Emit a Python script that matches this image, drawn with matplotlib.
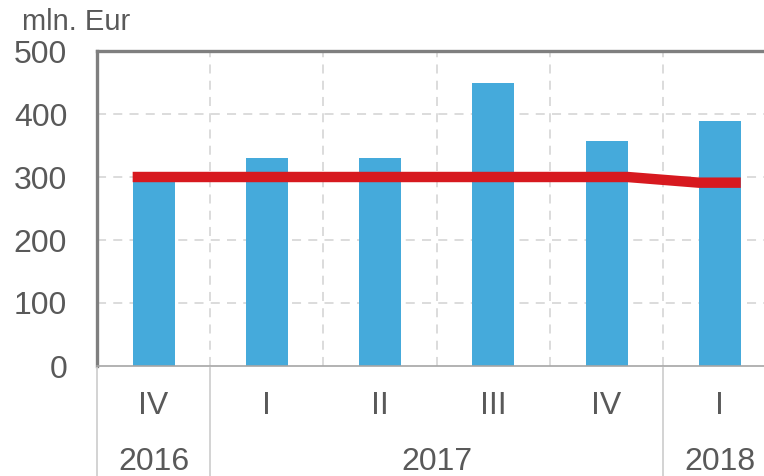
import numpy as np
import matplotlib
matplotlib.use("Agg")
from matplotlib import pyplot as plt
from matplotlib.lines import Line2D
import matplotlib.transforms as mtransforms

# donnees
quarters = ["IV", "I", "II", "III", "IV", "I"]
years = ["2016", "2017", "2018"]
year_spans = [(0, 0), (1, 4), (5, 5)]  # premier et dernier indice du trimestre pour chaque annee
bars = [303, 330, 330, 449, 357, 389]
line = [300, 300, 300, 300, 300, 291]

blue = "#45AADB"
red = "#D7191F"
grey_txt = "#595959"

plt.rcParams["font.family"] = ["Liberation Sans", "DejaVu Sans"]

fig = plt.figure(figsize=(7.64, 4.76), dpi=100)
ax = fig.add_axes([97 / 764, 1 - 366 / 476, 1 - 97 / 764, (366 - 51) / 476])

x = np.arange(len(quarters))
w = 0.37
ax.bar(x, bars, width=w, color=blue, zorder=2)

# la ligne rouge couvre la largeur de chaque barre
lx = np.ravel(np.column_stack([x - w / 2, x + w / 2]))
ly = np.repeat(line, 2)
ax.plot(lx, ly, color=red, lw=7.5, solid_capstyle="butt", zorder=3)

ax.set_xlim(-0.5, 5.39)
ax.set_ylim(0, 500)
ax.set_yticks(np.arange(0, 501, 100))
ax.set_xticks([])

# grille
for yv in range(100, 500, 100):
    ax.axhline(yv, color="#d9d9d9", lw=1.3, ls=(0, (5, 4)), zorder=1)
for xv in np.arange(0.5, len(quarters) - 0.5):
    ax.axvline(xv, color="#d9d9d9", lw=1.3, ls=(0, (5, 4)), zorder=1)

for s in ["left", "top"]:
    ax.spines[s].set_color("#7f7f7f")
    ax.spines[s].set_linewidth(2.4)
ax.spines["right"].set_visible(False)
ax.spines["bottom"].set_color("#a6a6a6")
ax.spines["bottom"].set_linewidth(1.2)

ax.tick_params(axis="y", length=0, pad=21.5, labelsize=23, labelcolor=grey_txt)
ax.tick_params(axis="x", length=0)

# etiquettes a deux niveaux
trans = mtransforms.blended_transform_factory(ax.transData, fig.transFigure)
for i, q in enumerate(quarters):
    ax.text(i, 1 - 406 / 476, q, transform=trans, ha="center", va="center",
            fontsize=23, color=grey_txt)
for yr, (a, b) in zip(years, year_spans):
    ax.text((a + b) / 2, 1 - 462 / 476, yr, transform=trans, ha="center", va="center",
            fontsize=23, color=grey_txt)

# separateurs verticaux
bounds = [-0.5] + [b + 0.5 for (_, b) in year_spans[:-1]]
for bx in bounds:
    fig.add_artist(Line2D([bx, bx], [0, 1 - 368 / 476], transform=trans,
                          color="#d0d0d0", lw=1.3))

fig.text(22 / 764, 1 - 22 / 476, "mln. Eur", ha="left", va="center",
         fontsize=21, color=grey_txt)

fig.savefig("out.png", dpi=100)
